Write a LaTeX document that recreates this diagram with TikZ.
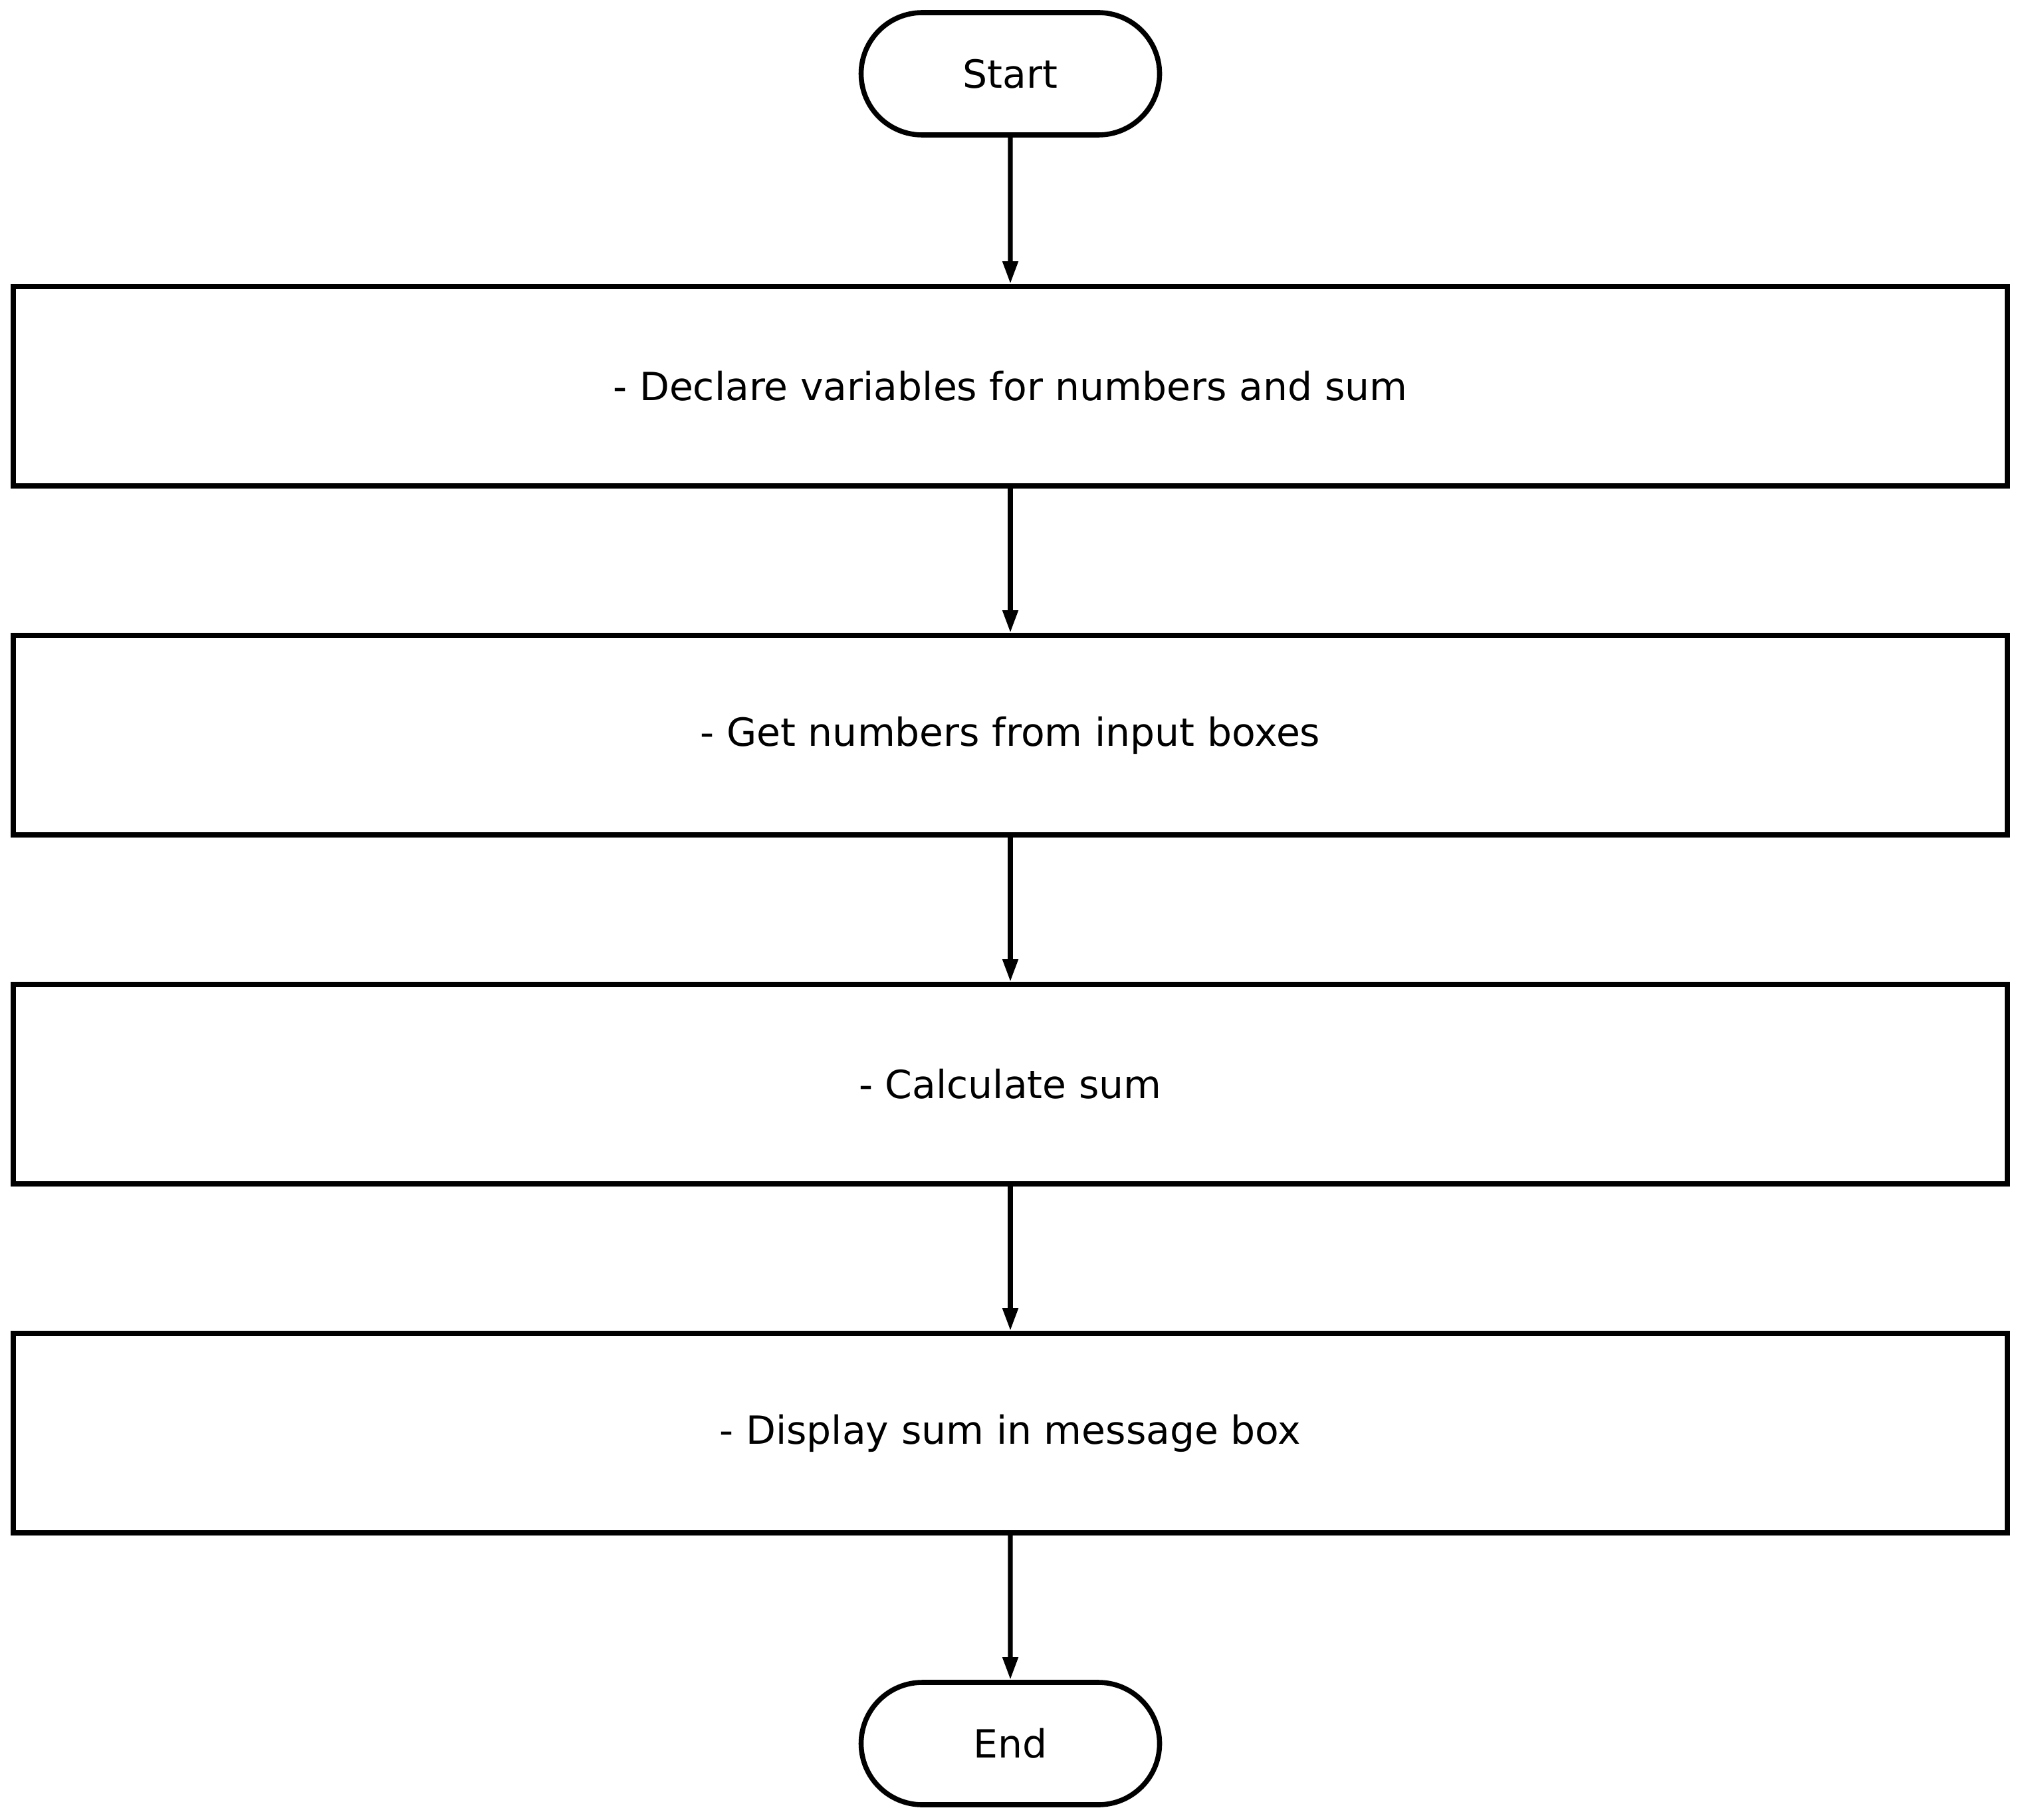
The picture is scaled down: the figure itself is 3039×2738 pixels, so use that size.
\documentclass[tikz,border=0pt]{standalone}
\usepackage{fontspec}
\setmainfont{DejaVu Sans}
\usetikzlibrary{shapes.misc,arrows.meta}
\tikzset{
  stepbox/.style={draw, line width=1.9pt, rectangle, minimum width=750pt, minimum height=75pt, inner sep=0pt, font=\fontsize{14.6}{17}\selectfont},
  termbox/.style={draw, line width=1.9pt, rounded rectangle, minimum width=112.25pt, minimum height=46pt, inner sep=0pt, font=\fontsize{14.6}{17}\selectfont},
  flow/.style={line width=1.8pt, -{Triangle[length=8.5pt, width=5.5pt]}}
}
\begin{document}
\begin{tikzpicture}[x=0.25pt, y=-0.25pt]
\useasboundingbox (0,0) rectangle (3039,2738);
\node[termbox] (start) at (1520,111) {Start};
\node[stepbox] (declare) at (1520,581) {- Declare variables for numbers and sum};
\node[stepbox] (input) at (1520,1106) {- Get numbers from input boxes};
\node[stepbox] (calc) at (1520,1631) {- Calculate sum};
\node[stepbox] (show) at (1520,2156) {- Display sum in message box};
\node[termbox] (end) at (1520,2623) {End};
\draw[flow] (start) -- (declare);
\draw[flow] (declare) -- (input);
\draw[flow] (input) -- (calc);
\draw[flow] (calc) -- (show);
\draw[flow] (show) -- (end);
\end{tikzpicture}
\end{document}
